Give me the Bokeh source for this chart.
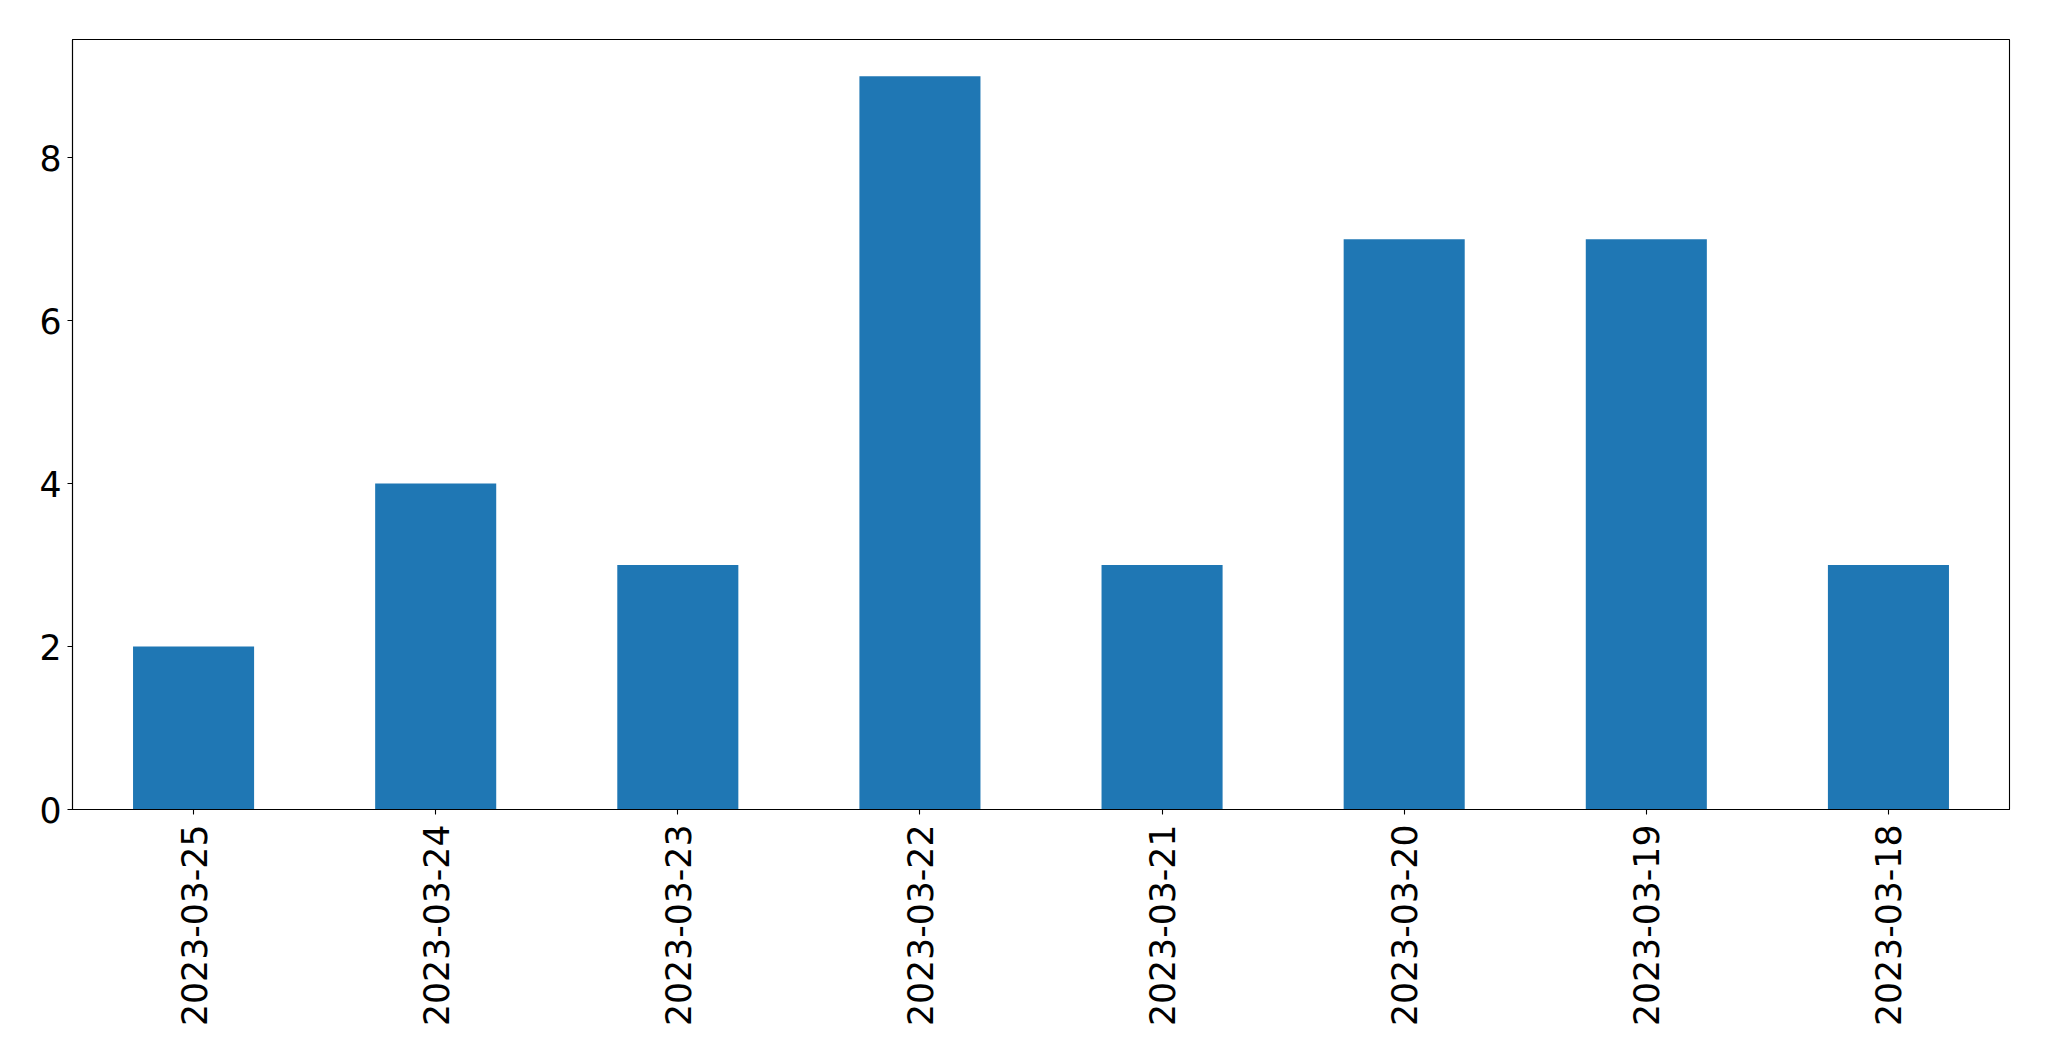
import math
from bokeh.plotting import figure
from bokeh.models import Range1d, FixedTicker
from bokeh.embed import file_html
from bokeh.resources import INLINE

dates = ["2023-03-25", "2023-03-24", "2023-03-23", "2023-03-22",
         "2023-03-21", "2023-03-20", "2023-03-19", "2023-03-18"]
counts = [2, 4, 3, 9, 3, 7, 7, 3]
y_ticks = [0, 2, 4, 6, 8]

p = figure(x_range=dates, y_range=Range1d(0, 9.45),
           width=2049, height=1061, output_backend="svg", toolbar_location=None,
           min_border_left=72, min_border_right=40, min_border_top=39, min_border_bottom=252)

p.vbar(x=dates, top=counts, width=0.5, color="#1f77b4", line_color=None)

p.xgrid.visible = False
p.ygrid.visible = False
p.outline_line_color = "black"
p.outline_line_width = 1.1
p.outline_line_alpha = 1

for ax in (p.xaxis[0], p.yaxis[0]):
    ax.axis_line_color = "black"
    ax.axis_line_width = 1.1
    ax.major_tick_line_color = "black"
    ax.major_tick_line_width = 1.1
    ax.major_tick_out = 5
    ax.major_tick_in = 0
    ax.minor_tick_line_color = None
    ax.major_label_text_font = "DejaVu Sans"
    ax.major_label_text_font_size = "34.7px"
    ax.major_label_text_color = "black"
    ax.major_label_standoff = 6

p.yaxis[0].ticker = FixedTicker(ticks=y_ticks)
p.xaxis[0].major_label_orientation = math.pi / 2
p.xaxis[0].major_label_standoff = 10

open("out.html", "w").write(file_html(p, INLINE))
